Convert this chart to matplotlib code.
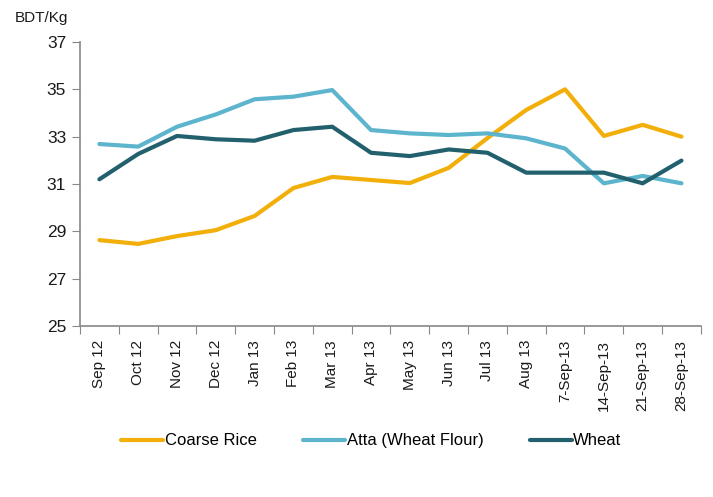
import numpy as np
import matplotlib
matplotlib.use('Agg')
from matplotlib import pyplot as plt

plt.rcParams['font.family'] = ['Liberation Sans', 'DejaVu Sans']

months = ['Sep 12', 'Oct 12', 'Nov 12', 'Dec 12', 'Jan 13', 'Feb 13', 'Mar 13',
          'Apr 13', 'May 13', 'Jun 13', 'Jul 13', 'Aug 13', '7-Sep-13',
          '14-Sep-13', '21-Sep-13', '28-Sep-13']

coarse_rice = [28.63, 28.47, 28.8, 29.05, 29.65, 30.83, 31.3, 31.17, 31.04,
               31.68, 32.94, 34.13, 35.0, 33.03, 33.5, 33.0]
atta = [32.69, 32.58, 33.42, 33.94, 34.58, 34.69, 34.97, 33.28, 33.14,
        33.07, 33.14, 32.93, 32.5, 31.03, 31.34, 31.03]
wheat = [31.2, 32.27, 33.03, 32.89, 32.83, 33.28, 33.42, 32.32, 32.18,
         32.46, 32.32, 31.48, 31.48, 31.48, 31.03, 31.99]

yticks = [25, 27, 29, 31, 33, 35, 37]

fig = plt.figure(figsize=(7.13, 4.97), dpi=100)
ax = fig.add_axes([0.1122, 0.344, 0.983 - 0.1122, 0.9155 - 0.344])

xx = np.arange(len(months))
ax.plot(xx, coarse_rice, color='#F2AF0A', lw=3, label='Coarse Rice',
        solid_joinstyle='round', solid_capstyle='round')
ax.plot(xx, atta, color='#5DB4CD', lw=3, label='Atta (Wheat Flour)',
        solid_joinstyle='round', solid_capstyle='round')
ax.plot(xx, wheat, color='#22606E', lw=3, label='Wheat',
        solid_joinstyle='round', solid_capstyle='round')

ax.set_xlim(-0.5, len(months) - 0.5)
ax.set_ylim(25, 37)
ax.set_yticks(yticks)
ax.tick_params(axis='y', labelsize=12.5, length=6, color='#888888', direction='out',
               labelcolor='#1a1a1a', pad=4)

# ticks between categories, labels on the categories
ax.set_xticks(np.arange(-0.5, len(months), 1.0))
ax.set_xticklabels([])
ax.set_xticks(xx, minor=True)
ax.set_xticklabels(months, minor=True, rotation=90)
ax.tick_params(axis='x', which='major', length=6, color='#888888', direction='out')
ax.tick_params(axis='x', which='minor', length=0, labelsize=11, pad=10,
               labelcolor='#1a1a1a')

for s in ['top', 'right']:
    ax.spines[s].set_visible(False)
for s in ['left', 'bottom']:
    ax.spines[s].set_color('#888888')
    ax.spines[s].set_linewidth(1.2)

fig.text(15 / 713, 1 - 18 / 497, 'BDT/Kg', fontsize=11, ha='left', va='center',
         color='#1a1a1a')

fig.legend(loc='center', bbox_to_anchor=(0.521, 0.113), ncol=3, frameon=False,
           fontsize=12, handlelength=2.5, handletextpad=0.1, columnspacing=2.8)

fig.savefig('out.png', dpi=100)
